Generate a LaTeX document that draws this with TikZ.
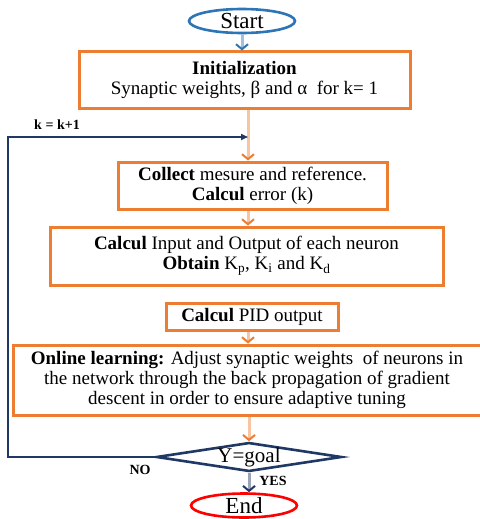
\documentclass[tikz,border=0pt]{standalone}
\usepackage{fontspec}
\setmainfont{Liberation Serif}
\usepackage{tikz}
\usetikzlibrary{arrows.meta,shapes.geometric}
\definecolor{orng}{RGB}{237,125,49}
\definecolor{navy}{RGB}{31,56,100}
\definecolor{skyb}{RGB}{46,117,182}

\begin{document}
\begin{tikzpicture}[x=1pt,y=-1pt,
  box/.style={draw=orng,line width=3pt,align=center,inner sep=2pt,font=\fontsize{19}{20}\selectfont},
  term/.style={ellipse,line width=2.6pt,inner sep=0pt,minimum width=106pt,minimum height=24pt,font=\fontsize{23}{24}\selectfont},
  cond/.style={diamond,draw=navy,line width=2.6pt,aspect=6.4,inner sep=0pt,font=\fontsize{21}{22}\selectfont},
  flow/.style={draw=#1!45,line width=3pt,-{Straight Barb[length=5pt,width=12pt,line width=2pt,color=#1]}},
  lbl/.style={font=\fontsize{14}{15}\selectfont\bfseries},
  feedback/.style={draw=navy,line width=1.6pt,-{Triangle[length=7pt,width=6pt]}}]
\useasboundingbox (0,0) rectangle (479,519);
\node[term,draw=skyb] (start) at (242,21) {Start};
\node[box,minimum width=331pt,minimum height=56pt] (init) at (244.5,80) {\textbf{Initialization}\\Synaptic weights, β and α\ \ for k= 1};
\node[box,minimum width=269pt,minimum height=47pt] (coll) at (252.5,185.5) {\textbf{Collect} mesure and reference.\\\textbf{Calcul} error (k)};
\node[box,minimum width=393pt,minimum height=58pt] (neur) at (246.5,256) {\textbf{Calcul} Input and Output of each neuron\\\textbf{Obtain} K\textsubscript{p}, K\textsubscript{i} and K\textsubscript{d}};
\node[box,minimum width=172pt,minimum height=27pt] (pid) at (252,316.5) {\textbf{Calcul} PID output};
\node[box,minimum width=468pt,minimum height=70pt] (learn) at (247,380) {\textbf{Online learning:} Adjust synaptic weights\ \ of neurons in\\the network through the back propagation of gradient\\descent in order to ensure adaptive tuning};
\node[cond] (goal) at (249,457) {Y=goal};
\node[term,draw=red] (end) at (244,505.5) {End};
\coordinate (k) at (248,137);
\coordinate (lft) at (8,457);
\node[lbl] (kinc) at (57,125) {k = k+1};
\node[lbl] (no) at (140,470) {NO};
\node[lbl] (yes) at (273,481) {YES};
\draw[flow=skyb] (start.south) -- (init.north -| start);
\draw[flow=orng] (init.south -| k) -- (coll.north -| k);
\draw[flow=orng] (coll.south -| k) -- (neur.north -| k);
\draw[flow=orng] (pid.south -| k) -- (learn.north -| k);
\draw[flow=orng] (learn.south -| goal) -- (goal.north);
\draw[flow=navy] (goal.south) -- (end.north -| goal);
\draw[feedback] (goal.west) -- (lft) |- (k);
\end{tikzpicture}
\end{document}
